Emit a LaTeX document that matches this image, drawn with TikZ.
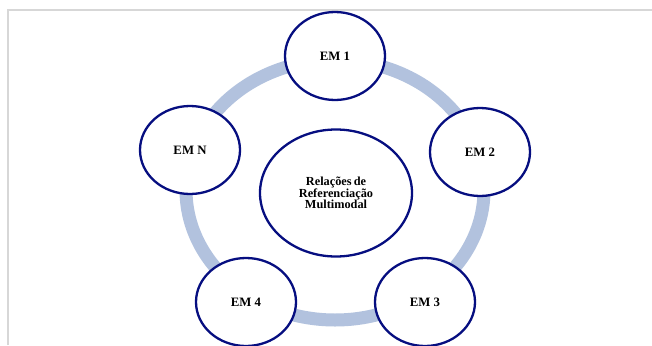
\documentclass[tikz,border=0pt]{standalone}
\usepackage{fontspec}
\setmainfont{Liberation Serif}
\usetikzlibrary{shapes.geometric}
\definecolor{ringblue}{RGB}{178,194,222}
\definecolor{navy}{RGB}{6,14,128}
\definecolor{framegray}{RGB}{215,215,215}
\newcommand\mytightlines{\lineskiplimit=-20pt\relax}
\tikzset{
  em/.style={ellipse, draw=navy, line width=2.3pt, fill=white,
    minimum width=100pt, minimum height=88pt, inner sep=0pt,
    font=\fontsize{12.8}{12.8}\selectfont\bfseries},
  hub/.style={ellipse, draw=navy, line width=2.3pt, fill=white,
    minimum width=152pt, minimum height=127pt, inner sep=0pt, align=center,
    font=\fontsize{12.3}{11.6}\selectfont\mytightlines\bfseries}
}
\begin{document}
\begin{tikzpicture}[x=1pt,y=-1pt]
\useasboundingbox (0,0) rectangle (652,345);
\fill[white] (0,0) rectangle (652,345);
% frame
\draw[framegray, line width=1.8pt] (8,345) -- (8,10) -- (652,10);
% ring
\draw[ringblue, line width=13pt] (335,190) ellipse [x radius=149, y radius=130];
% nodes
\node[hub] (c) at (336,193) {Relações\,de\\Referenciação\\Multimodal};
\node[em] (e1) at (335,56) {EM 1};
\node[em] (e2) at (480,152) {EM 2};
\node[em] (e3) at (425,302) {EM 3};
\node[em] (e4) at (246,302) {EM 4};
\node[em] (en) at (190,150) {EM N};
\end{tikzpicture}
\end{document}
